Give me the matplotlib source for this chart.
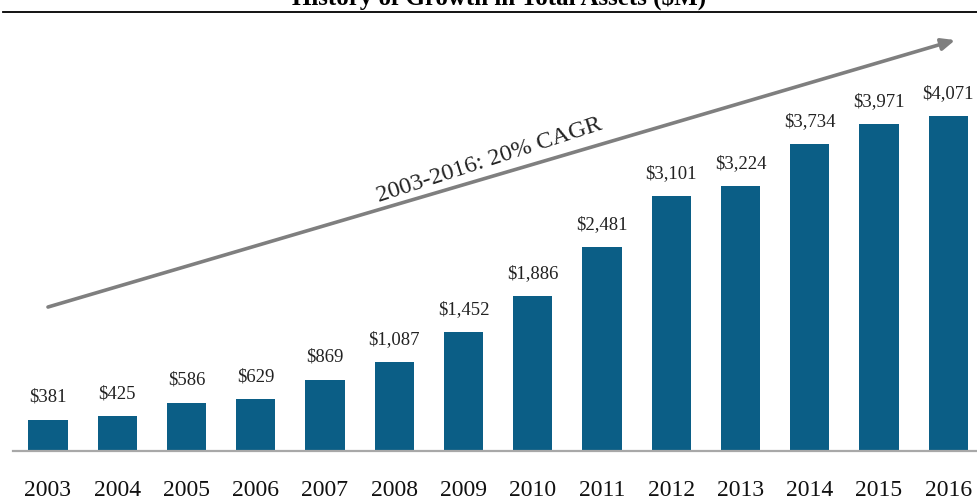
import matplotlib.pyplot as plt

# Total assets by year ($M)
years = ["2003", "2004", "2005", "2006", "2007", "2008", "2009",
         "2010", "2011", "2012", "2013", "2014", "2015", "2016"]
assets = [381, 425, 586, 629, 869, 1087, 1452,
          1886, 2481, 3101, 3224, 3734, 3971, 4071]

plt.rcParams["font.family"] = ["Liberation Serif", "DejaVu Serif"]

fig = plt.figure(figsize=(9.78, 5.0), dpi=100)
ax = fig.add_axes([0, 0, 1, 1])

x = list(range(len(years)))
bars = ax.bar(x, assets, width=0.565, color="#0b5e86", zorder=2)

# value labels
for xi, v in zip(x, assets):
    ax.annotate(f"${v:,}", (xi, v), xytext=(0, 10), textcoords="offset points",
                ha="center", va="bottom", fontsize=13.5, color="#222222")

# year labels under the baseline
for xi, yr in zip(x, years):
    ax.text(xi, -474, yr, ha="center", va="center", fontsize=17, color="#111111")

# baseline
ax.plot([-0.505, 13.43], [0, 0], color="#a8a8a8", lw=1.6, zorder=3)

# growth arrow
ax.annotate("", xy=(13.1, 4994), xytext=(0, 1750),
            arrowprops=dict(arrowstyle="-|>,head_length=0.8,head_width=0.35",
                            color="#7f7f7f", lw=2.6, shrinkA=0, shrinkB=0))
ax.text(6.38, 3536, "2003-2016: 20% CAGR", rotation=18, ha="center",
        va="center", fontsize=17.5, color="#222222")

ax.set_xlim(-0.693, 13.43)
ax.set_ylim(-595, 5481)
ax.axis("off")

# clipped title and rule at the top
fig.text(0.51, 1 - 5 / 500, "History of Growth in Total Assets ($M)",
         ha="center", va="baseline", fontsize=18, fontweight="bold")
fig.add_artist(plt.Line2D([0.003, 1], [1 - 12 / 500, 1 - 12 / 500],
                          color="black", lw=1.3))

fig.savefig("out.png", dpi=100)
